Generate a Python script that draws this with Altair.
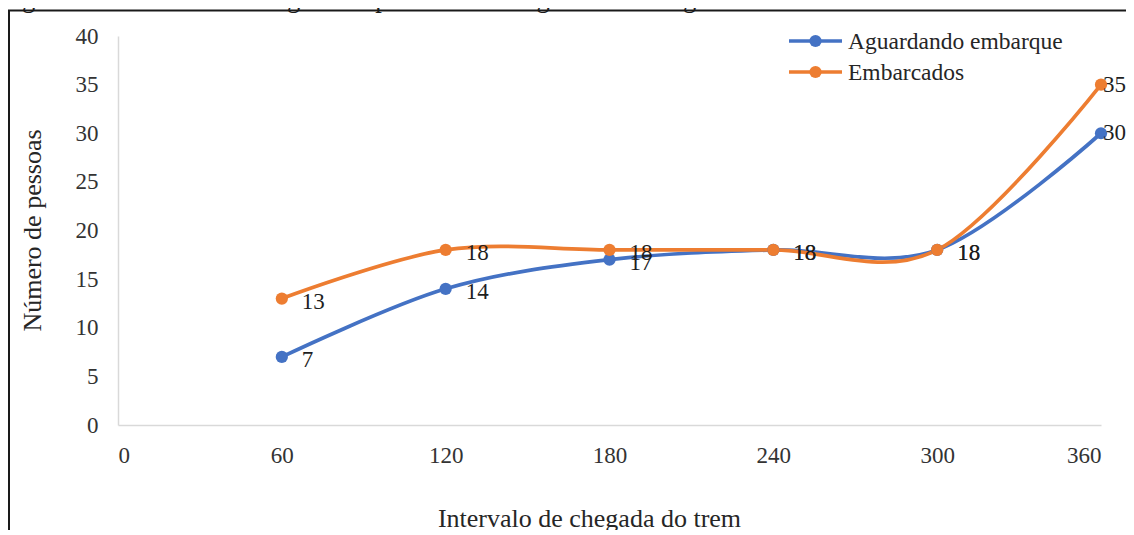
import altair as alt
import pandas as pd

# ---- data ----
intervalo = [60, 120, 180, 240, 300, 360]
aguardando = [7, 14, 17, 18, 18, 30]
embarcados = [13, 18, 18, 18, 18, 35]
series_names = ["Aguardando embarque", "Embarcados"]
series_colors = ["#4472C4", "#ED7D31"]
x_ticks = [0, 60, 120, 180, 240, 300, 360]
y_ticks = [0, 5, 10, 15, 20, 25, 30, 35, 40]
fig_caption = "Figura 47: Intervalo de chegada de pessoas de 5 segundos e 2 vagões"

rows = []
for name, vals in zip(series_names, [aguardando, embarcados]):
    for xv, yv in zip(intervalo, vals):
        rows.append({"intervalo": xv, "pessoas": yv, "serie": name})
df = pd.DataFrame(rows)

FONT = "Liberation Serif"
W, H = 983, 389
PAD = {"left": 110, "top": 28, "right": 25, "bottom": 105}

xs = alt.X(
    "intervalo:Q",
    scale=alt.Scale(domain=[0, 360], nice=False, zero=True),
    axis=alt.Axis(
        values=x_ticks, title="Intervalo de chegada do trem",
        titleX=471, titleY=101, titleBaseline="alphabetic", titleAlign="center",
        labelPadding=19, labelOverlap=False,
    ),
)
ys = alt.Y(
    "pessoas:Q",
    scale=alt.Scale(domain=[0, 40], nice=False),
    axis=alt.Axis(
        values=y_ticks, title="Número de pessoas",
        titleAngle=270, titleX=-78, titleY=194, titleBaseline="alphabetic",
        titleAlign="center", labelPadding=20,
    ),
)
scale_c = alt.Scale(domain=series_names, range=series_colors)

base = alt.Chart(df)

lines = base.mark_line(interpolate="cardinal", strokeWidth=3.7).encode(
    x=xs, y=ys,
    color=alt.Color("serie:N", scale=scale_c, legend=None),
)

points = base.mark_point(filled=True, size=150, opacity=1, shape="circle").encode(
    x="intervalo:Q", y="pessoas:Q",
    color=alt.Color("serie:N", scale=scale_c, legend=None),
)

labels_main = base.transform_filter(alt.datum.intervalo < 360).mark_text(
    align="left", baseline="middle", dx=20, dy=3, font=FONT, fontSize=23, color="#1f1f1f"
).encode(x="intervalo:Q", y="pessoas:Q", text="pessoas:Q")

labels_end = base.transform_filter(alt.datum.intervalo == 360).mark_text(
    align="left", baseline="middle", dx=2, dy=0, font=FONT, fontSize=23, color="#1f1f1f"
).encode(x="intervalo:Q", y="pessoas:Q", text="pessoas:Q")

one = alt.Chart(pd.DataFrame({"k": [0]}))

# legend drawn by hand (line + dot + label per series)
legend_layers = []
for i, (name, col) in enumerate(zip(series_names, series_colors)):
    ly = 5 + 31 * i
    legend_layers.append(one.mark_rule(color=col, strokeWidth=3.7).encode(
        x=alt.value(671), x2=alt.value(724), y=alt.value(ly)))
    legend_layers.append(one.mark_point(filled=True, size=150, opacity=1, color=col).encode(
        x=alt.value(697.5), y=alt.value(ly)))
    legend_layers.append(one.mark_text(
        align="left", baseline="middle", font=FONT, fontSize=23.5, color="#262626"
    ).encode(x=alt.value(730), y=alt.value(ly + 1), text=alt.value(name)))

frame_left = one.mark_rule(color="#1a1a1a", strokeWidth=2).encode(
    x=alt.value(-109), y=alt.value(-26), y2=alt.value(H + PAD["bottom"])
)
frame_top = one.mark_rule(color="#1a1a1a", strokeWidth=2).encode(
    x=alt.value(-110), x2=alt.value(W + PAD["right"]), y=alt.value(-25.5)
)
caption = one.mark_text(
    align="left", baseline="alphabetic", font=FONT, fontSize=26.5, color="#1a1a1a"
).encode(x=alt.value(-118), y=alt.value(-29.3), text=alt.value(fig_caption))

chart = alt.layer(
    frame_left, frame_top, caption, lines, points, labels_main, labels_end, *legend_layers
).properties(
    width=W, height=H,
    padding=PAD,
    autosize=alt.AutoSizeParams(type="none"),
).configure_view(stroke=None).configure_axis(
    domainColor="#D9D9D9", domainWidth=1.5, ticks=False, grid=False,
    labelFont=FONT, labelFontSize=23, labelColor="#333333",
    titleFont=FONT, titleFontSize=26, titleColor="#262626", titleFontWeight="normal",
).configure_axisX(labelBaseline="top")

chart.save("out.html", embed_options={"renderer": "svg", "actions": False})
